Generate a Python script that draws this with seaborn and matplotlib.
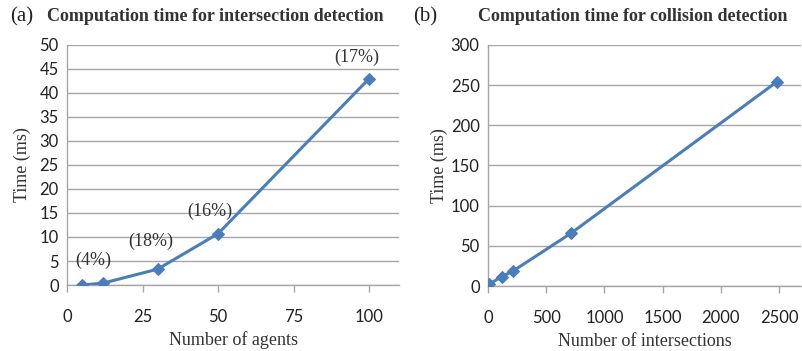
import matplotlib
matplotlib.use("Agg")
import matplotlib.pyplot as plt
import seaborn as sns
import pandas as pd

agents = [5, 12, 30, 50, 100]
time_a = [0.0, 0.4, 3.3, 10.7, 43.0]
pct_labels = ["(4%)", "", "(18%)", "(16%)", "(17%)"]
label_pos_x = [8.7, 12, 27.7, 47.4, 95.8]
label_pos_y = [3.4, 0, 7.2, 13.6, 45.7]

intersections = [5, 118, 215, 712, 2480]
time_b = [2, 11.6, 18.7, 65.6, 254]

sns.set_theme(style="white")
plt.rcParams['font.family'] = ['Lato', 'DejaVu Sans']

line_col = "#4A7EBB"
grid_col = "#A6A6A6"
serif = ['Liberation Serif', 'DejaVu Serif']

fig = plt.figure(figsize=(8.03, 3.51), dpi=100)
ax1 = fig.add_axes([0.0834, 0.188, 0.414, 0.684])
ax2 = fig.add_axes([0.6077, 0.185, 0.39, 0.687])

df_a = pd.DataFrame({"x": agents, "y": time_a})
df_b = pd.DataFrame({"x": intersections, "y": time_b})

for ax, df in [(ax1, df_a), (ax2, df_b)]:
    sns.lineplot(data=df, x="x", y="y", ax=ax, color=line_col, lw=2.2,
                 marker="D", markersize=6, markeredgecolor=line_col, zorder=3)

ax1.set_xlim(0, 110)
ax1.set_ylim(0, 50)
ax1.set_xticks([0, 25, 50, 75, 100])
ax1.set_yticks(range(0, 51, 5))
ax2.set_xlim(0, 2690)
ax2.set_ylim(0, 300)
ax2.set_xticks(range(0, 2501, 500))
ax2.set_yticks(range(0, 301, 50))

for ax in (ax1, ax2):
    ax.grid(axis="y", color=grid_col, lw=1)
    ax.set_axisbelow(True)
    for s in ("top", "right"):
        ax.spines[s].set_visible(False)
    for s in ("left", "bottom"):
        ax.spines[s].set_color(grid_col)
        ax.spines[s].set_linewidth(1)
    ax.tick_params(axis="x", direction="out", length=5, color=grid_col, width=1,
                   labelsize=12, pad=12, labelcolor="#222222", bottom=True)
    ax.tick_params(axis="y", length=0, labelsize=12, pad=6, labelcolor="#222222")

ax1.set_ylabel("Time (ms)", fontsize=13, family=serif, color="#333333", labelpad=6)
ax2.set_ylabel("Time (ms)", fontsize=13, family=serif, color="#333333", labelpad=2)
ax1.set_xlabel("Number of agents", fontsize=13, family=serif, color="#333333", labelpad=5)
ax2.set_xlabel("Number of intersections", fontsize=13, family=serif, color="#333333", labelpad=5)

for lab, lx, ly in zip(pct_labels, label_pos_x, label_pos_y):
    if lab:
        ax1.text(lx, ly, lab, fontsize=13, family=serif, color="#333333",
                 ha="center", va="bottom")

fig.text(0.012, 0.925, "(a)", fontsize=15, family=serif, color="#222222", va="bottom")
fig.text(0.268, 0.93, "Computation time for intersection detection", fontsize=13,
         family=serif, weight="bold", color="#333333", ha="center", va="bottom")
fig.text(0.514, 0.925, "(b)", fontsize=15, family=serif, color="#222222", va="bottom")
fig.text(0.788, 0.93, "Computation time for collision detection", fontsize=13,
         family=serif, weight="bold", color="#333333", ha="center", va="bottom")

fig.savefig("out.png", dpi=100)
